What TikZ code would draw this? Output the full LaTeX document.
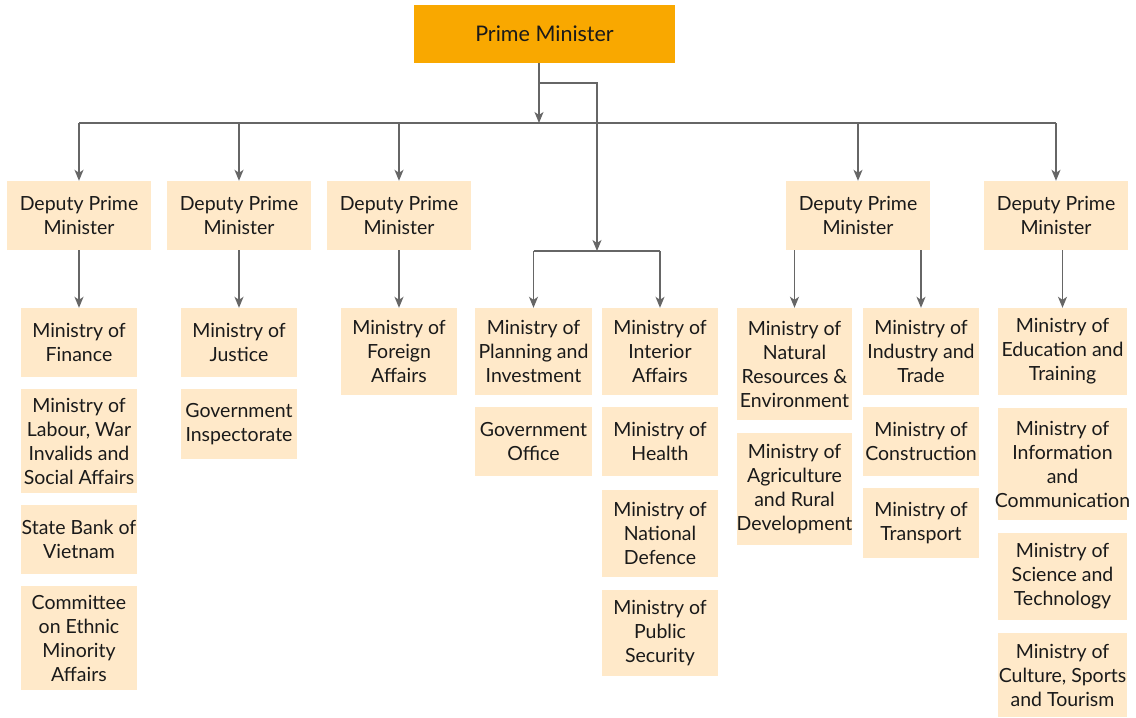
\documentclass[tikz,border=0pt]{standalone}
\usepackage{fontspec}
\setmainfont{Lato}
\usetikzlibrary{arrows.meta}
\definecolor{pmorange}{HTML}{F9A800}
\definecolor{peach}{HTML}{FFE9C9}
\definecolor{linegray}{HTML}{666666}
\definecolor{ink}{HTML}{1A1A1A}
\begin{document}
\begin{tikzpicture}[x=1pt,y=-1pt,
  b/.style={fill=peach,text=ink,align=center,inner sep=0pt,font=\fontsize{19.5}{24}\selectfont},
  pmb/.style={b,fill=pmorange,minimum width=261pt,minimum height=58pt,font=\fontsize{21.5}{24}\selectfont},
  dpm/.style={b,minimum width=144pt,minimum height=69pt},
  e/.style={draw=linegray,line width=1.4pt},
  arr/.style={e,-{Stealth[length=11pt,width=9pt,inset=3pt]}}]
\useasboundingbox (0,0) rectangle (1136,718);
\node[pmb] (pm) at (544.5,34) {Prime Minister};
\node[dpm] (d1) at (79,215.5) {Deputy Prime\\Minister};
\node[dpm] (d2) at (239,215.5) {Deputy Prime\\Minister};
\node[dpm] (d3) at (399,215.5) {Deputy Prime\\Minister};
\node[dpm] (d4) at (858,215.5) {Deputy Prime\\Minister};
\node[dpm] (d5) at (1056,215.5) {Deputy Prime\\Minister};
% ministries, column by column
\node[b,minimum width=116pt,minimum height=69pt] (fin) at (79,342.5) {Ministry of\\Finance};
\node[b,minimum width=116pt,minimum height=104pt] (lab) at (79,441) {Ministry of\\Labour, War\\Invalids and\\Social Affairs};
\node[b,minimum width=116pt,minimum height=69pt] (sbv) at (79,539.5) {State Bank of\\Vietnam};
\node[b,minimum width=116pt,minimum height=104pt] (cem) at (79,638) {Committee\\on Ethnic\\Minority\\Affairs};
\node[b,minimum width=116pt,minimum height=69pt] (jus) at (239,342.5) {Ministry of\\Justice};
\node[b,minimum width=116pt,minimum height=70pt] (gi) at (239,424) {Government\\Inspectorate};
\node[b,minimum width=116pt,minimum height=87pt] (fa) at (399,351.5) {Ministry of\\Foreign\\Affairs};
\node[b,minimum width=117pt,minimum height=87pt] (pla) at (533.5,351.5) {Ministry of\\Planning and\\Investment};
\node[b,minimum width=117pt,minimum height=69pt] (go) at (533.5,441.5) {Government\\Office};
\node[b,minimum width=116pt,minimum height=87pt] (int) at (660,351.5) {Ministry of\\Interior\\Affairs};
\node[b,minimum width=116pt,minimum height=69pt] (hea) at (660,441.5) {Ministry of\\Health};
\node[b,minimum width=116pt,minimum height=87pt] (def) at (660,533.5) {Ministry of\\National\\Defence};
\node[b,minimum width=116pt,minimum height=86pt] (ps) at (660,633) {Ministry of\\Public\\Security};
\node[b,minimum width=115pt,minimum height=112pt] (nat) at (794.5,364) {Ministry of\\Natural\\Resources \&\\Environment};
\node[b,minimum width=115pt,minimum height=112pt] (agr) at (794.5,489) {Ministry of\\Agriculture\\and Rural\\Development};
\node[b,minimum width=116pt,minimum height=87pt] (ind) at (921,351.5) {Ministry of\\Industry and\\Trade};
\node[b,minimum width=116pt,minimum height=69pt] (con) at (921,441.5) {Ministry of\\Construction};
\node[b,minimum width=116pt,minimum height=70pt] (tra) at (921,523) {Ministry of\\Transport};
\node[b,minimum width=129pt,minimum height=87pt] (edu) at (1062.5,351.5) {Ministry of\\Education and\\Training};
\node[b,minimum width=129pt,minimum height=112pt] (inf) at (1062.5,464) {Ministry of\\Information\\and\\\makebox[120pt]{Communication}};
\node[b,minimum width=129pt,minimum height=87pt] (sci) at (1062.5,576.5) {Ministry of\\Science and\\Technology};
\node[b,minimum width=129pt,minimum height=84pt] (cul) at (1062.5,675) {Ministry of\\Culture, Sports\\and Tourism};
% connectors
\coordinate (j) at (539,123);
\coordinate (k) at (539,83);
\coordinate (mb) at (597,251);
\draw[arr] ([xshift=-5.5pt]pm.south) -- (j);
\draw[e] (d1.north |- j) -- (d5.north |- j);
\foreach \d in {d1,d2,d3,d4,d5}
  \draw[arr] (\d.north |- j) -- (\d.north);
\draw[arr] (k) -| (mb);
\draw[e] (pla.north |- mb) -- (int.north |- mb);
\draw[arr] (pla.north |- mb) -- (pla.north);
\draw[arr] (int.north |- mb) -- (int.north);
\draw[arr] (d1.south) -- (fin.north);
\draw[arr] (d2.south) -- (jus.north);
\draw[arr] (d3.south) -- (fa.north);
\draw[arr] (d4.south -| nat.north) -- (nat.north);
\draw[arr] (d4.south -| ind.north) -- (ind.north);
\draw[arr] (d5.south -| edu.north) -- (edu.north);
\end{tikzpicture}
\end{document}
